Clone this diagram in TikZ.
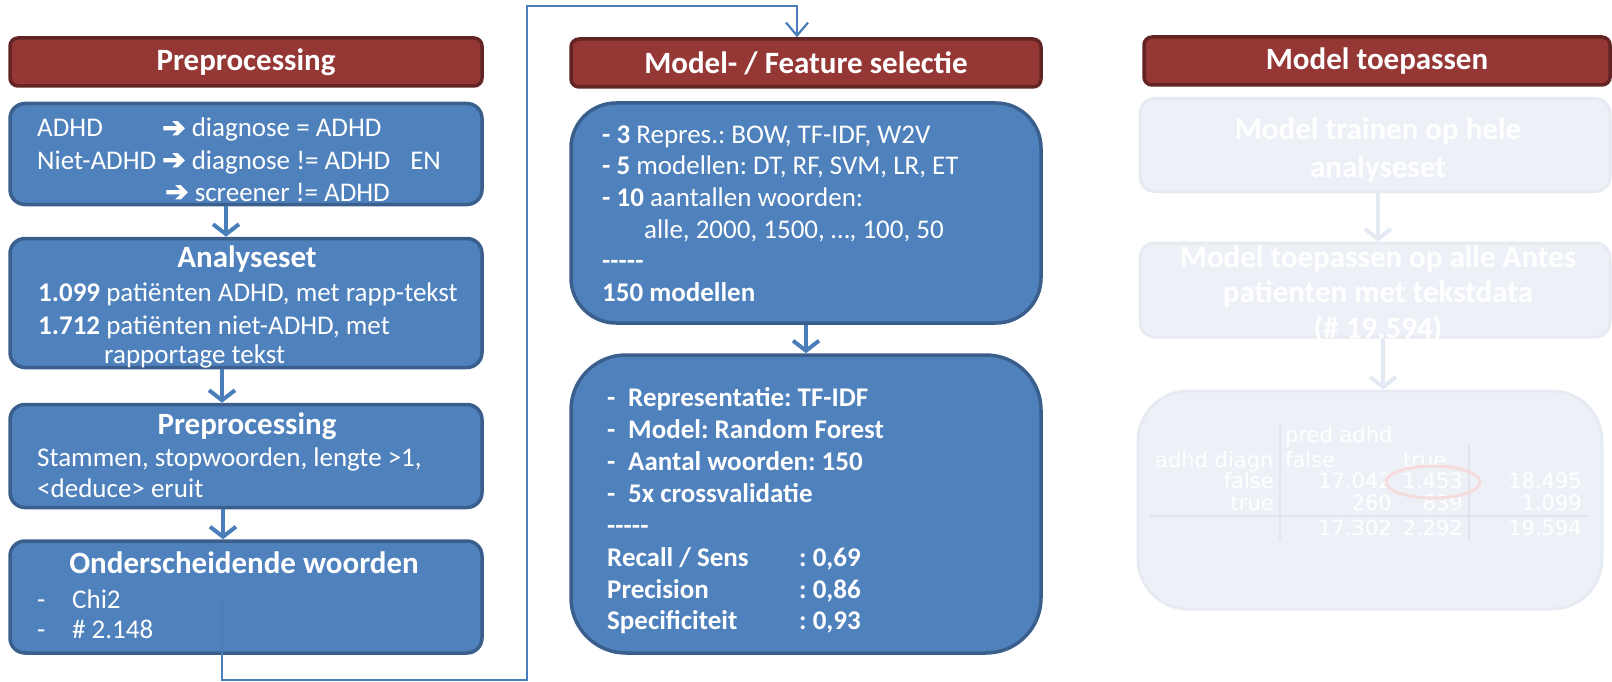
\documentclass[tikz,border=0pt]{standalone}
\usepackage{fontspec}
\setmainfont{Carlito}
\newfontfamily\symfont[FakeBold=3]{DejaVu Sans}
\newfontfamily\tabfont{DejaVu Sans}
\usetikzlibrary{arrows.meta,positioning}
\definecolor{boxblue}{HTML}{4F81BD}
\definecolor{boxedge}{HTML}{3B5F8C}
\definecolor{headred}{HTML}{953735}
\definecolor{headedge}{HTML}{632523}
\definecolor{lineblue}{HTML}{4A7EBB}
\definecolor{fadefill}{HTML}{EDF1F7}
\definecolor{fadeedge}{HTML}{E6EBF2}
\definecolor{fadeline}{HTML}{E1E5EB}
\definecolor{fadering}{HTML}{F4DCDC}
\definecolor{fadearrow}{HTML}{E3EAF4}
\tikzset{
  header/.style={draw=headedge, fill=headred, line width=3.5pt, rounded corners=8pt,
    text=white, font=\fontsize{31}{36}\selectfont\bfseries},
  bluebox/.style={draw=boxedge, fill=boxblue, line width=3.5pt, rounded corners=#1},
  fadebox/.style={draw=fadeedge, fill=fadefill, line width=3pt, rounded corners=#1},
  txt/.style={anchor=base west, text=white, inner sep=0pt, font=\fontsize{27}{32}\selectfont},
  txtb/.style={txt, font=\fontsize{27}{32}\selectfont\bfseries},
  ttl/.style={anchor=base, text=white, inner sep=0pt, font=\fontsize{31}{36}\selectfont\bfseries},
  tab/.style={anchor=base east, text=white, inner sep=0pt, font=\tabfont\fontsize{21}{23}\selectfont},
  flow/.style={draw=lineblue, line width=4pt, -{Straight Barb[length=10pt,width=26pt]}},
  fadeflow/.style={draw=fadearrow, line width=4pt, -{Straight Barb[length=10pt,width=26pt]}},
  link/.style={draw=lineblue, line width=2.2pt, -{Straight Barb[length=13pt,width=22pt]}}
}
\newcommand{\arw}{{\symfont\fontsize{28}{32}\selectfont ➔}}
\newcommand{\streep}{-{}-{}-{}-{}-}
\frenchspacing
\begin{document}
\begin{tikzpicture}[x=1pt,y=-1pt]
\useasboundingbox (0,0) rectangle (1612,682);

% kolom 1: preprocessing
\node[header, minimum width=472, minimum height=48] (h1) at (246,62) {Preprocessing};
\node[bluebox=15pt, minimum width=472, minimum height=101] (b1) at (246,154) {};
\node[bluebox=15pt, minimum width=472, minimum height=129] (b2) at (246,303) {};
\node[bluebox=15pt, minimum width=472, minimum height=103] (b3) at (246,456) {};
\node[bluebox=15pt, minimum width=472, minimum height=112] (b4) at (246,597) {};

\node[txt] (b1a) at (37,137) {\makebox[125pt][l]{ADHD}\arw\ diagnose = ADHD};
\node[txt] (b1b) at (37,169) {\makebox[125pt][l]{Niet-ADHD}\arw\ diagnose != ADHD\hspace{20pt}EN};
\node[txt] (b1c) at (37,201) {\hspace{128pt}\arw\ screener != ADHD};

\node[ttl] (b2t) at (247,267) {Analyseset};
\node[txt] (b2a) at (38,301) {\textbf{1.099} patiënten ADHD, met rapp-tekst};
\node[txt] (b2b) at (38,334) {\textbf{1.712} patiënten niet-ADHD, met};
\node[txt] (b2c) at (104,363) {rapportage tekst};

\node[ttl] (b3t) at (247,434) {Preprocessing};
\node[txt] (b3a) at (37,466) {Stammen, stopwoorden, lengte >1,};
\node[txt] (b3b) at (37,497) {<deduce> eruit};

\node[ttl] (b4t) at (244,573) {Onderscheidende woorden};
\node[txt] (b4a) at (37,608) {\makebox[35pt][l]{-}Chi2};
\node[txt] (b4b) at (37,638) {\makebox[35pt][l]{-}\# 2.148};

\draw[flow] ([xshift=-20pt]b1.south) -- ([xshift=-20pt]b2.north);
\draw[flow] ([xshift=-24pt]b2.south) -- ([xshift=-24pt]b3.north);
\draw[flow] ([xshift=-23pt]b3.south) -- ([xshift=-23pt]b4.north);

% kolom 2: model- / feature selectie
\node[header, minimum width=470, minimum height=48] (h2) at (806,63) {Model- / Feature selectie};
\node[bluebox=45pt, minimum width=470, minimum height=220] (m1) at (806,213) {};
\node[bluebox=55pt, minimum width=470, minimum height=298] (m2) at (806,504) {};

\node[txt] (m1a) at (602,143) {\textbf{- 3} Repres.: BOW, TF-IDF, W2V};
\node[txt] (m1b) at (602,175) {\textbf{- 5} modellen: DT, RF, SVM, LR, ET};
\node[txt] (m1c) at (602,206) {\textbf{- 10} aantallen woorden:};
\node[txt] (m1d) at (644,238) {alle, 2000, 1500, …, 100, 50};
\node[txtb] (m1e) at (602,269) {\streep};
\node[txtb] (m1f) at (602,301) {150 modellen};

\node[txtb] (m2a) at (607,406) {\makebox[21pt][l]{-}Representatie: TF-IDF};
\node[txtb] (m2b) at (607,438) {\makebox[21pt][l]{-}Model: Random Forest};
\node[txtb] (m2c) at (607,470) {\makebox[21pt][l]{-}Aantal woorden: 150};
\node[txtb] (m2d) at (607,502) {\makebox[21pt][l]{-}5x crossvalidatie};
\node[txtb] (m2e) at (607,534) {\streep};
\node[txtb] (m2f) at (607,566) {\makebox[192pt][l]{Recall / Sens}: 0,69};
\node[txtb] (m2g) at (607,598) {\makebox[192pt][l]{Precision}: 0,86};
\node[txtb] (m2h) at (607,629) {\makebox[192pt][l]{Specificiteit}: 0,93};

\draw[flow] (m1.south) -- (m2.north);

% kolom 3: model toepassen (vervaagd)
\node[header, minimum width=466, minimum height=48] (h3) at (1377,61) {Model toepassen};
\node[fadebox=15pt, minimum width=470, minimum height=93] (r1) at (1375,145) {};
\node[fadebox=15pt, minimum width=470, minimum height=94] (r2) at (1375,290) {};
\node[fadebox=50pt, minimum width=464, minimum height=218] (r3) at (1370,500) {};

\node[ttl] (r1a) at (1378,140) {Model trainen op hele};
\node[ttl] (r1b) at (1378,177) {analyseset};
\node[ttl] (r2a) at (1378,267) {Model toepassen op alle Antes};
\node[ttl] (r2b) at (1378,302) {patienten met tekstdata};
\node[ttl] (r2c) at (1378,338) {(\# 19.594)};

\draw[fadeflow] ([xshift=3pt]r1.south) -- ([xshift=3pt]r2.north);
\draw[fadeflow] ([xshift=8pt]r2.south) -- ([xshift=13pt]r3.north);

% kruistabel
\draw[fadeline, line width=1.5pt] (1280,422) -- (1280,540);
\draw[fadeline, line width=1.5pt] (1469,445) -- (1469,540);
\draw[fadeline, line width=1.5pt] (1150,516) -- (1588,516);
\node[tab, anchor=base west] (t0) at (1285,442) {pred adhd};
\node[tab, anchor=base west] (t1) at (1155,467) {adhd diagn};
\node[tab, anchor=base west] (t2) at (1285,467) {false};
\node[tab, anchor=base west] (t3) at (1403,467) {true};
\node[tab] (t4) at (1274,488) {false};
\node[tab] (t5) at (1392,488) {17.042};
\node[tab] (t6) at (1463,488) {1.453};
\node[tab] (t7) at (1582,488) {18.495};
\node[tab] (t8) at (1274,510) {true};
\node[tab] (t9) at (1392,510) {260};
\node[tab] (t10) at (1463,510) {839};
\node[tab] (t11) at (1582,510) {1.099};
\node[tab] (t12) at (1392,535) {17.302};
\node[tab] (t13) at (1463,535) {2.292};
\node[tab] (t14) at (1582,535) {19.594};
\draw[fadering, line width=3pt] (1433,482) ellipse [x radius=47, y radius=16];

% verbinding naar kolom 2
\coordinate (k1) at (222,680);
\coordinate (k2) at (527,680);
\coordinate (k3) at (527,6);
\coordinate (k4) at (797,6);
\draw[link] ([xshift=-24pt]b4.center) -- (k1) -- (k2) -- (k3) -- (k4) -- (k4 |- h2.north);
\end{tikzpicture}
\end{document}
